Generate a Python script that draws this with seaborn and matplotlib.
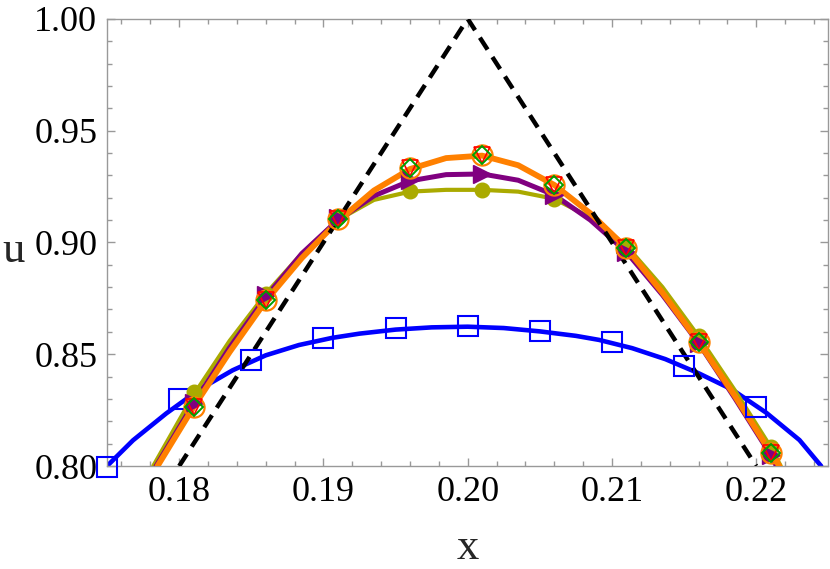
import numpy as np
import pandas as pd
import matplotlib
matplotlib.use("Agg")
import matplotlib.pyplot as plt
from matplotlib.ticker import MultipleLocator, FormatStrFormatter
import seaborn as sns

# ---------------- data ----------------
# dashed reference triangle
tri_x = [0.18, 0.20, 0.22]
tri_u = [0.80, 1.00, 0.80]

# blue curve + open squares
blue_line_x = [0.1750, 0.1768, 0.1791, 0.1814, 0.1837, 0.1860, 0.1883, 0.1906,
               0.1925, 0.1950, 0.1975, 0.2000, 0.2025, 0.2050, 0.2075, 0.2091,
               0.2114, 0.2137, 0.2160, 0.2183, 0.2207, 0.2230, 0.2245]
blue_line_u = [0.800, 0.8115, 0.8235, 0.8342, 0.8428, 0.8495, 0.8541, 0.8573,
               0.8592, 0.8610, 0.8620, 0.8623, 0.8617, 0.8602, 0.8582, 0.8564,
               0.8527, 0.8478, 0.8415, 0.8343, 0.8238, 0.8116, 0.800]
blue_mark_x = [0.175, 0.180, 0.185, 0.190, 0.195, 0.200, 0.205, 0.210, 0.215, 0.220]
blue_mark_u = [0.7996, 0.830, 0.8474, 0.8573, 0.8617, 0.8626, 0.8604, 0.8555, 0.8447, 0.8264]

# common marker abscissae for the other series
mark_x = [0.181, 0.186, 0.191, 0.196, 0.201, 0.206, 0.211, 0.216, 0.221]

# curve abscissae
curve_x = [0.181, 0.1835, 0.186, 0.1885, 0.191, 0.1935, 0.196, 0.1985,
           0.201, 0.2035, 0.206, 0.2085, 0.211, 0.2135, 0.216, 0.2185, 0.221]

olive_line_x = [0.1782] + curve_x + [0.2217]
olive_line_u = [0.800, 0.8318, 0.856, 0.877, 0.895, 0.9100, 0.9190, 0.9227, 0.9235,
                0.9235, 0.9227, 0.9195, 0.9112, 0.8985, 0.8800, 0.858, 0.834, 0.8085, 0.800]
olive_mark_u = [0.833, 0.877, 0.9115, 0.923, 0.9235, 0.9195, 0.8985, 0.858, 0.8085]

purple_line_x = [0.1784] + curve_x + [0.2214]
purple_line_u = [0.800, 0.828, 0.853, 0.8755, 0.895, 0.910, 0.9208, 0.9275, 0.9303,
                 0.9306, 0.9278, 0.9212, 0.910, 0.8957, 0.8765, 0.855, 0.8305, 0.805, 0.800]
purple_mark_u = [0.828, 0.8765, 0.911, 0.928, 0.9306, 0.921, 0.8957, 0.855, 0.805]

orange_line_x = [0.1785] + curve_x + [0.2216]
orange_line_u = [0.800, 0.8264, 0.851, 0.8738, 0.893, 0.9095, 0.9232, 0.9328, 0.9377,
                 0.9388, 0.9345, 0.9257, 0.9130, 0.8975, 0.8775, 0.8555, 0.8315, 0.806, 0.800]
orange_mark_u = [0.8264, 0.8743, 0.9105, 0.9333, 0.9390, 0.9257, 0.8975, 0.8555, 0.806]

red_mark_u = [0.8264, 0.8743, 0.9105, 0.9333, 0.9390, 0.9257, 0.8975, 0.8555, 0.806]
green_mark_u = [0.8264, 0.8743, 0.9105, 0.9333, 0.9390, 0.9257, 0.8975, 0.8555, 0.806]

x_ticks = [0.18, 0.19, 0.20, 0.21, 0.22]
u_ticks = [0.80, 0.85, 0.90, 0.95, 1.00]

# ---------------- style ----------------
sns.set_style("ticks")
plt.rcParams['font.family'] = ['Liberation Serif', 'DejaVu Serif']
plt.rcParams['lines.solid_joinstyle'] = 'round'
plt.rcParams['lines.solid_capstyle'] = 'round'

BLUE = "#0000FF"
OLIVE = "#AAAA00"
PURPLE = "#800080"
ORANGE = "#FF8000"
RED = "#FF0000"
GREEN = "#00A000"
FRAME = "#999999"

fig = plt.figure(figsize=(8.30, 5.69), dpi=100)
ax = fig.add_axes([0.129, 0.181, 0.869, 0.786])

# lines
sns.lineplot(x=blue_line_x, y=blue_line_u, ax=ax, color=BLUE, lw=3.3, zorder=2)
sns.lineplot(x=olive_line_x, y=olive_line_u, ax=ax, color=OLIVE, lw=3.0, zorder=3)
sns.lineplot(x=purple_line_x, y=purple_line_u, ax=ax, color=PURPLE, lw=3.6, zorder=4)
sns.lineplot(x=orange_line_x, y=orange_line_u, ax=ax, color=ORANGE, lw=4.2, zorder=5)
ax.plot(tri_x, tri_u, color="black", lw=3.2, ls=(0, (3.2, 2.0)),
        dash_capstyle="butt", zorder=6)

# markers
ax.plot(blue_mark_x, blue_mark_u, ls="none", marker="s", ms=14, mfc="none",
        mec=BLUE, mew=1.5, zorder=7, clip_on=False)
ax.plot(mark_x, olive_mark_u, ls="none", marker="o", ms=10.5, mfc=OLIVE,
        mec=OLIVE, zorder=8)
ax.plot(mark_x, purple_mark_u, ls="none", marker=">", ms=13, mfc=PURPLE,
        mec=PURPLE, zorder=9)
ax.plot(mark_x, orange_mark_u, ls="none", marker="o", ms=14.5, mfc="none",
        mec=ORANGE, mew=1.6, zorder=10)
ax.plot(mark_x, red_mark_u, ls="none", marker="v", ms=12, mfc="none",
        mec=RED, mew=1.2, zorder=11)
ax.plot(mark_x, green_mark_u, ls="none", marker="D", ms=9, mfc="none",
        mec=GREEN, mew=1.4, zorder=12)

# axes
ax.set_xlim(0.175, 0.225)
ax.set_ylim(0.80, 1.00)
ax.set_xticks(x_ticks)
ax.set_yticks(u_ticks)
ax.xaxis.set_minor_locator(MultipleLocator(0.002))
ax.yaxis.set_minor_locator(MultipleLocator(0.01))
ax.xaxis.set_major_formatter(FormatStrFormatter("%.2f"))
ax.yaxis.set_major_formatter(FormatStrFormatter("%.2f"))
ax.tick_params(which="both", direction="in", top=True, right=True,
               color=FRAME, width=1.0, labelsize=26, labelcolor="black")
ax.tick_params(which="major", length=6, pad=7)
ax.tick_params(which="minor", length=3.5)
for s in ax.spines.values():
    s.set_visible(True)
    s.set_color(FRAME)
    s.set_linewidth(1.0)

ax.set_xlabel("x", fontsize=32, labelpad=14)
ax.set_ylabel("u", fontsize=32, rotation=0, labelpad=6, va="center")
ax.yaxis.set_label_coords(-0.13, 0.48)

fig.savefig("out.png", dpi=100)
